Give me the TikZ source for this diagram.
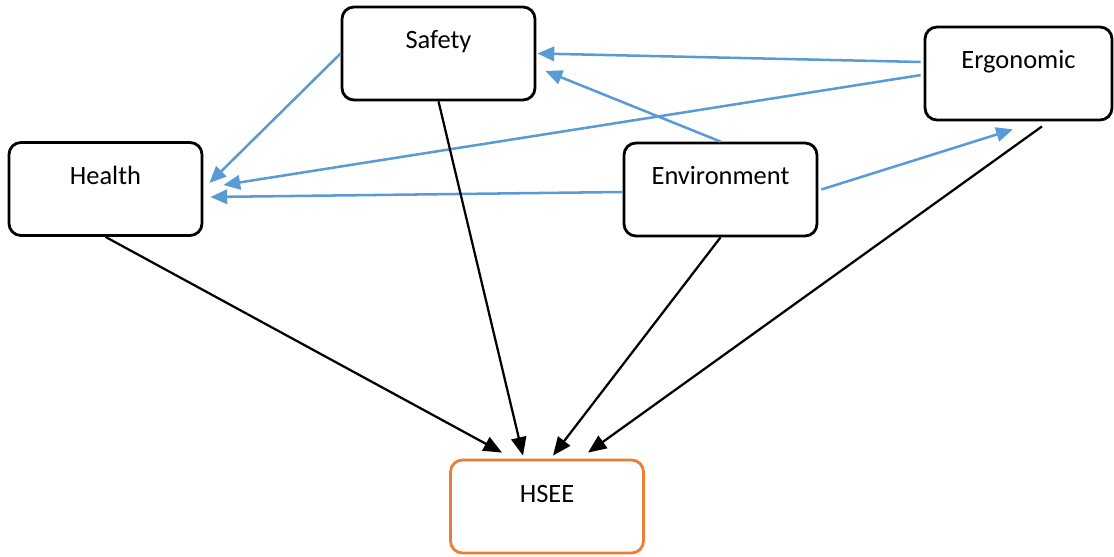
\documentclass[tikz,border=0pt]{standalone}
\usepackage{fontspec}
\setmainfont{Carlito}
\usetikzlibrary{arrows.meta}
\definecolor{linkblue}{HTML}{5B9BD5}
\definecolor{hseeorange}{HTML}{ED7D31}

\begin{document}
\begin{tikzpicture}[block/.style={rectangle, draw, rounded corners=0.3cm, line width=2pt, fill=white, minimum width=4.825cm, inner sep=0pt, text height=1.05cm, text depth=1.275cm, font=\fontsize{18.8}{22}\selectfont}, link/.style={draw=linkblue, line width=1.8pt, -{Triangle[length=0.42cm, width=0.36cm]}}, feed/.style={draw=black, line width=1.6pt, -{Triangle[length=0.46cm, width=0.38cm]}}]
  {
  \useasboundingbox (0,0) rectangle (27.85,-13.925);
  \node[block] at (2.6375,-4.725) (health) {Health};
  \node[block, right of=health, node distance=15.375cm, yshift=-0.0125cm] (env) {Environment};
  \node[block, above of=health, node distance=3.3875cm, xshift=8.325cm] (safety) {Safety};
  \node[block, above of=env, node distance=2.9cm, xshift=7.45cm, minimum width=4.675cm] (ergo) {Ergonomic};
  \node[block, draw=hseeorange, below of=health, node distance=7.9375cm, xshift=11.0375cm] (hsee) {HSEE};

  \draw[link] (safety.west) -- ([shift={(0.15,0.15)}]health.east);
  \draw[link] ([shift={(-0.075,0.2875)}]ergo.west) -- ([shift={(0.025,0)}]safety.east);
  \draw[link] (env.north) -- ([shift={(0.225,-0.4375)}]safety.east);
  \draw[link] ([shift={(-0.075,-0.04)}]ergo.west) -- ([shift={(0.5,0.1)}]health.east);
  \draw[link] ([shift={(0,-0.0625)}]env.west) -- ([shift={(0.175,-0.2)}]health.east);
  \draw[link] ([shift={(0.075,0)}]env.east) -- ([shift={(-0.14,-0.2)}]ergo.south);

  \draw[feed] (health.south) -- ([shift={(-1.125,0.15)}]hsee.north);
  \draw[feed] (safety.south) -- ([shift={(-0.6,0.075)}]hsee.north);
  \draw[feed] (env.south) -- ([shift={(0.15,0.075)}]hsee.north);
  \draw[feed] ([shift={(0.5875,-0.125)}]ergo.south) -- ([shift={(1.025,0.15)}]hsee.north);
}
\end{tikzpicture}
\end{document}
